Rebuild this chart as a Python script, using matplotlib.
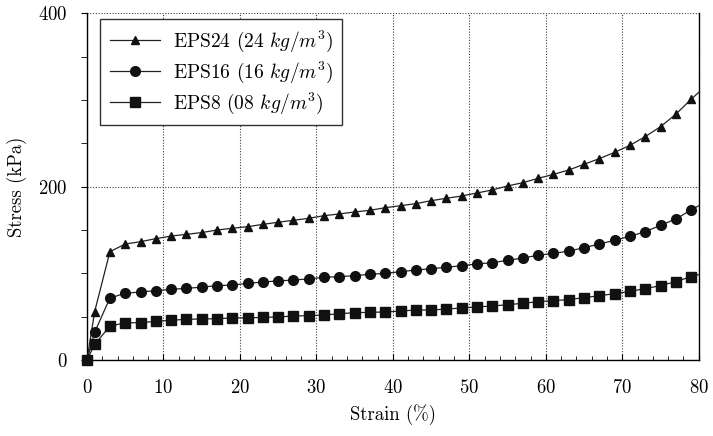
import numpy as np
import matplotlib
matplotlib.use('Agg')
import matplotlib.pyplot as plt
from matplotlib.ticker import MultipleLocator

plt.rcParams['font.family'] = 'serif'
plt.rcParams['font.serif'] = ['cmr10']
plt.rcParams['mathtext.fontset'] = 'cm'
plt.rcParams['axes.formatter.use_mathtext'] = True
plt.rcParams['font.size'] = 13.5

# strain (%) - markers every 2 %, last value only carries the line to the axis edge
strain = [0, 1, 3, 5, 7, 9, 11, 13, 15, 17, 19, 21, 23, 25, 27, 29, 31, 33, 35, 37, 39,
          41, 43, 45, 47, 49, 51, 53, 55, 57, 59, 61, 63, 65, 67, 69, 71, 73, 75, 77, 79, 80]

eps24 = [0, 55.7, 125, 133.8, 136.5, 140, 143, 145, 147, 150, 152, 153.8, 156.5, 158.9,
         161.2, 163.5, 166.5, 168.5, 170.8, 172.7, 175.7, 178, 180.4, 183.8, 186.6, 189.2,
         192.7, 196.2, 200.8, 204.6, 209.6, 214.2, 219.2, 225.8, 232.3, 239.6, 247.7, 257.7,
         269.2, 283.5, 300.8, 308.8]
eps16 = [0, 32, 71.5, 77, 78.5, 80, 81.5, 82.7, 84, 85.8, 86.5, 88.3, 90, 91.2, 92.3, 93.5,
         95.4, 96.2, 97.3, 98.9, 100, 101.9, 103.8, 105.3, 107, 108.8, 110.8, 112.3, 115,
         117.7, 120.8, 123.1, 125.6, 129.6, 133.8, 138.1, 142.7, 148, 155.4, 162.7, 173.1, 178]
eps8 = [0, 18, 39, 43, 43, 44.6, 45.8, 47, 47.3, 47.7, 48.5, 48.6, 49.2, 49.6, 50.8, 51.1,
        51.9, 53.4, 54.6, 55, 55.4, 56.5, 57.7, 57.7, 58.8, 60, 61.2, 62.3, 63.8, 65.4, 67.3,
        68.4, 69.8, 71.9, 74.2, 76.5, 79.2, 82.3, 85.8, 90.4, 96.2, 98.5]

series = [
    ('EPS24 (24 $kg/m^3$)', eps24, '^', 6),
    ('EPS16 (16 $kg/m^3$)', eps16, 'o', 7),
    ('EPS8 (08 $kg/m^3$)', eps8, 's', 6.8),
]

fig = plt.figure(figsize=(7.13, 4.36), dpi=100)
ax = fig.add_axes([0.122, 0.1743, 0.858, 0.7952])

marks = list(range(len(strain) - 1))
for label, vals, mk, ms in series:
    ax.plot(strain, vals, color='#222222', lw=0.9, marker=mk, ms=ms,
            mfc='#111111', mec='#111111', markevery=marks, clip_on=False,
            label=label, zorder=3)

ax.set_xlim(0, 80)
ax.set_ylim(0, 400)
ax.xaxis.set_major_locator(MultipleLocator(10))
ax.xaxis.set_minor_locator(MultipleLocator(2))
ax.yaxis.set_major_locator(MultipleLocator(200))
ax.yaxis.set_minor_locator(MultipleLocator(50))
ax.tick_params(axis='x', which='both', direction='in', top=False, pad=14)
ax.tick_params(axis='x', which='major', length=4)
ax.tick_params(axis='x', which='minor', length=3)
ax.tick_params(axis='y', which='both', direction='out', right=False, length=4, pad=10)

ax.grid(True, which='major', linestyle=(0, (1, 1.5)), color='0.25', lw=0.8)
ax.spines['top'].set_visible(False)
for s in ['left', 'bottom', 'right']:
    ax.spines[s].set_linewidth(1.0)

ax.set_xlabel('Strain (%)', labelpad=5)
ax.set_ylabel('Stress (kPa)', labelpad=8)

leg = ax.legend(loc='upper left', bbox_to_anchor=(0.021, 0.9835), borderaxespad=0,
                fancybox=False, edgecolor='0.2', framealpha=1, handlelength=2.6,
                labelspacing=0.28, borderpad=0.5, handletextpad=0.65, fontsize=14)
leg.get_frame().set_linewidth(1.0)

fig.savefig('out.png', dpi=100)
